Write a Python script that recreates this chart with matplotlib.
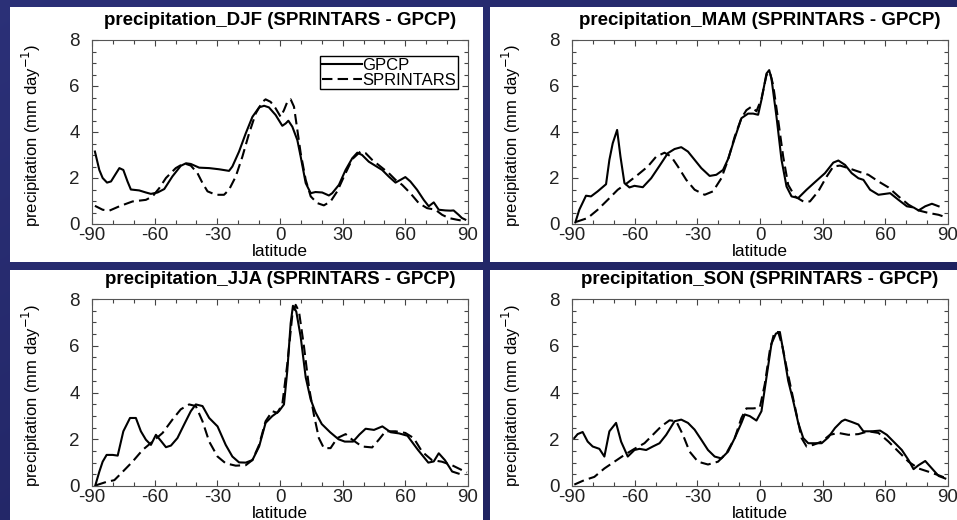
import numpy as np
import matplotlib
matplotlib.use("Agg")
import matplotlib.pyplot as plt
from matplotlib.patches import Rectangle
from matplotlib.ticker import MultipleLocator

plt.rcParams['font.family'] = ['Liberation Sans', 'DejaVu Sans']
plt.rcParams['axes.unicode_minus'] = False

# ---------------- data ----------------
djf_gpcp_lat = [-88.6, -86.5, -84.9, -82.8, -80.9, -78.5, -76.9, -75, -73, -71.4, -67.4, -64.2, -61.8, -58.6,
                -55.4, -51.5, -47.5, -45, -42.7, -38.7, -33.9, -29.2, -24.4, -22.8, -19.6, -16.4, -13.2, -10,
                -7.6, -5.3, -2.1, 1.1, 2.7, 4, 5.9, 8.3, 9.9, 12.3, 14.7, 17, 20.2, 23.4, 25, 28.2, 31.4, 34.6,
                37, 39.3, 42.5, 45.7, 48.9, 52.1, 55.3, 57.7, 60, 62.4, 65.6, 68.8, 71.2, 73.6, 76, 79.2, 81.6,
                83.1, 85.5, 87.1, 88.7]
djf_gpcp = [3.15, 2.35, 2.0, 1.8, 1.85, 2.2, 2.43, 2.35, 1.85, 1.5, 1.46, 1.37, 1.31, 1.37,
            1.52, 2.07, 2.53, 2.64, 2.61, 2.45, 2.43, 2.38, 2.31, 2.5, 3.15, 3.94, 4.66, 5.07,
            5.14, 5.07, 4.74, 4.27, 4.37, 4.49, 4.23, 3.65, 2.93, 1.78, 1.34, 1.39, 1.37, 1.24, 1.34, 1.7, 2.35, 2.86,
            3.1, 3.0, 2.71, 2.53, 2.35, 2.06, 1.8, 1.92, 2.04, 1.85, 1.49, 1.05, 0.77, 0.94, 0.62, 0.59, 0.58,
            0.59, 0.4, 0.26, 0.19]
djf_spr_lat = [-88.6, -84.9, -81.7, -76.9, -70.6, -64.2, -61, -57.8, -54.6, -49.9, -45.9, -42.7, -39.5, -37.1,
               -34.7, -30.7, -26.8, -24.4, -21.2, -18, -14.8, -11.6, -8.4, -6.9, -4.5, -2.1, 0.3, 1.9, 3.5, 5.1,
               6.7, 8.3, 9.9, 12.3, 14.7, 17.8, 21, 24.2, 27.4, 30.6, 34.6, 38.5, 41, 44.1, 48.1, 52.1, 55.3,
               58.5, 62.4, 66.4, 70.4, 74.4, 77.6, 80.8, 84.5, 88.7]
djf_spr = [0.79, 0.62, 0.58, 0.77, 0.98, 1.05, 1.2, 1.56, 2.0, 2.43, 2.64, 2.54, 2.21, 1.78,
           1.42, 1.27, 1.27, 1.49, 2.06, 2.93, 3.94, 4.81, 5.31, 5.42, 5.31, 5.03, 4.66, 4.95, 5.31, 5.42,
           5.1, 4.09, 3.08, 1.92, 1.2, 0.91, 0.81, 0.98, 1.42, 2.06, 2.82, 3.15, 3.08, 2.79, 2.5, 2.21, 1.92,
           1.7, 1.34, 0.91, 0.69, 0.62, 0.4, 0.26, 0.19, 0.12]

mam_gpcp_lat = [-88.4, -86.5, -83.3, -80.9, -77.7, -73.7, -72.1, -70.5, -68.4, -66.8, -64.9, -62.5, -60.1,
                -56.1, -52.1, -48.1, -44.1, -40.9, -37.7, -34.5, -31.3, -28.1, -24.1, -20.9, -17.7, -15.3,
                -12.1, -8.9, -5.7, -3.3, -0.9, 0.7, 3.1, 4.4, 5.5, 7.9, 10.3, 12.7, 15.1, 18.3, 22.3, 26.3,
                31.1, 35.1, 37.5, 40.7, 43.9, 47.1, 49.5, 52.7, 56.7, 59.9, 62.3, 66.3, 70.3, 73.5, 75.9,
                79.1, 82.3, 85.5]
mam_gpcp = [0.07, 0.62, 1.23, 1.2, 1.42, 1.73, 2.79, 3.51, 4.09, 2.93, 1.78, 1.59, 1.66,
            1.6, 1.99, 2.53, 3.08, 3.26, 3.34, 3.15, 2.79, 2.43, 2.09, 2.14, 2.35, 2.82,
            3.73, 4.6, 4.8, 4.8, 4.75, 5.4, 6.54, 6.69, 6.32, 4.66, 2.79, 1.63, 1.2, 1.13, 1.49, 1.82,
            2.21, 2.67, 2.76, 2.57, 2.21, 1.99, 1.92, 1.49, 1.27, 1.31, 1.34, 1.05, 0.77, 0.72, 0.59,
            0.77, 0.88, 0.77]
mam_spr_lat = [-88.1, -82.5, -77.7, -72.9, -68.1, -63.3, -58.5, -53.7, -49.7, -45.7, -42.5, -39.3, -35.3,
               -31.3, -26.5, -22.5, -18.5, -15.3, -12.1, -8.9, -6.5, -4.1, -1.7, 0.7, 3.1, 4.7, 6.3, 8.7,
               11.1, 13.5, 16.7, 20.7, 23.9, 27.9, 31.9, 35.1, 38.3, 42.3, 47.1, 51.9, 56.7, 61.5, 66.3,
               71.1, 75.9, 80.7, 85.5, 88.7]
mam_spr = [0.09, 0.26, 0.62, 1.05, 1.49, 1.8, 2.14, 2.5, 2.93, 3.1, 2.93, 2.5, 1.92,
           1.49, 1.27, 1.42, 1.99, 2.79, 3.8, 4.6, 4.95, 5.1, 4.9, 5.45, 6.47, 6.61, 6.04, 4.52,
           2.93, 1.7, 1.2, 0.98, 0.98, 1.42, 2.06, 2.5, 2.54, 2.43, 2.28, 2.14, 1.85, 1.59, 1.2,
           0.84, 0.59, 0.48, 0.4, 0.3]

jja_gpcp_lat = [-88.4, -86.5, -84.9, -83, -80.1, -77.7, -75, -71.8, -69, -66.6, -64.2, -61.8, -59.4, -57,
                -54.6, -52.2, -49.1, -45.9, -42.7, -40.3, -37.1, -33.9, -29.9, -26, -22.8, -19.6, -16.4,
                -13.2, -10, -6.9, -3.7, -0.5, 1.9, 3.5, 5.1, 6.2, 7.8, 9.9, 12.3, 14.7, 17, 20, 24, 28,
                31, 35, 38, 41, 45, 49, 53, 57, 61, 66, 71, 73.6, 76, 79, 82.4, 85.5]
jja_gpcp = [0.03, 0.61, 1.04, 1.33, 1.33, 1.3, 2.34, 2.91, 2.91, 2.34, 1.98, 1.76, 2.19, 1.93,
            1.66, 1.73, 2.05, 2.63, 3.2, 3.49, 3.42, 2.91, 2.55, 1.76, 1.26, 1.01, 1.0,
            1.11, 1.69, 2.7, 2.99, 3.2, 3.49, 4.94, 6.96, 7.71, 7.46, 6.38, 4.65, 3.7, 3.15, 2.65, 2.3, 2.0,
            1.9, 1.9, 2.2, 2.45, 2.4, 2.55, 2.3, 2.25, 2.15, 1.55, 1.0, 1.05, 1.4, 1.1, 0.62, 0.53]
jja_spr_lat = [-88.1, -83.3, -79.3, -75.3, -70.6, -65.8, -61, -56.2, -51.5, -47.5, -43.5, -40.3, -37.1,
               -33.9, -29.9, -26, -21.2, -16.4, -13.2, -10, -6.9, -3.7, -1.3, 1.1, 3.5, 5.9, 7.5, 9.1,
               11.5, 13.9, 16.2, 18.6, 21, 24.2, 27.4, 31.4, 34.6, 39.3, 44.1, 47.3, 50.5, 55.3, 60, 64,
               68, 72.7, 77.5, 82.3, 87.1, 89.5]
jja_spr = [0.03, 0.17, 0.25, 0.61, 1.04, 1.54, 1.9, 2.27, 2.84, 3.28, 3.49, 3.42, 2.77,
           1.9, 1.26, 0.97, 0.87, 0.89, 1.11, 1.76, 2.77, 3.2, 3.13, 3.49, 5.22, 7.32, 7.75, 7.46,
           5.95, 4.21, 3.06, 2.05, 1.62, 1.62, 2.05, 2.22, 1.98, 1.69, 1.65, 1.98, 2.34, 2.34, 2.27, 2.05,
           1.47, 1.11, 1.04, 0.89, 0.68, 0.58]

son_gpcp_lat = [-88.9, -87.3, -84.9, -82.5, -80.1, -76.9, -74.5, -72.1, -68.9, -66.5, -63.3, -60.1, -57.7,
                -54.5, -51.3, -48.1, -44.9, -40.9, -37.7, -34.5, -31.3, -28.1, -24.9, -21.7, -18.5, -15.3,
                -12.1, -8.9, -7.3, -4.9, -1.7, 0.7, 3.1, 5.5, 7.6, 9.5, 11.1, 13.5, 15.9, 18.3, 20.7, 23.1,
                26.3, 29.5, 32.7, 35.9, 39.1, 40.7, 43.9, 47.1, 49.5, 53.5, 57.5, 60.7, 64.7, 67.9, 71.1,
                73.5, 75.9, 79.1, 82.3, 85.5, 88.7]
son_gpcp = [2.05, 2.22, 2.31, 1.9, 1.69, 1.59, 1.26, 2.34, 2.7, 1.9, 1.26, 1.54, 1.59,
            1.54, 1.69, 1.83, 2.19, 2.77, 2.84, 2.7, 2.41, 1.98, 1.54, 1.26, 1.18, 1.47,
            2.05, 2.7, 3.06, 2.99, 2.8, 3.2, 4.65, 6.09, 6.52, 6.59, 5.8, 4.5, 3.64, 2.7, 2.05, 1.83,
            1.83, 1.83, 2.08, 2.48, 2.77, 2.84, 2.74, 2.63, 2.34, 2.34, 2.37, 2.19, 1.83, 1.54, 1.11,
            0.72, 0.89, 1.07, 0.75, 0.43, 0.32]
son_spr_lat = [-88.9, -84.1, -79.3, -74.5, -69.7, -64.9, -60.1, -55.3, -51.3, -47.3, -43.3, -40.1, -36.9,
               -33.7, -29.7, -24.9, -20.1, -16.1, -12.1, -8.9, -6.5, -3.3, -0.1, 2.3, 4.7, 6.8, 8.7, 10.6,
               12.7, 15.1, 17.5, 19.9, 22.3, 25.5, 29.5, 33.5, 37.5, 42.3, 47.1, 51.9, 56.7, 61.5, 66.3,
               71.1, 75.9, 80.7, 85.5, 88.7]
son_spr = [0.06, 0.25, 0.39, 0.75, 1.04, 1.33, 1.59, 1.83, 2.19, 2.55, 2.81, 2.77, 2.19,
           1.47, 1.04, 0.92, 1.04, 1.4, 2.05, 2.91, 3.32, 3.32, 3.35, 4.36, 5.8, 6.55, 6.59, 6.02,
           5.08, 4.07, 3.06, 2.05, 1.69, 1.76, 1.9, 2.19, 2.27, 2.19, 2.22, 2.34, 2.27, 1.9, 1.47,
           1.04, 0.75, 0.61, 0.46, 0.35]

seasons = ["DJF", "MAM", "JJA", "SON"]
series_names = ["GPCP", "SPRINTARS"]
x_ticks = [-90, -60, -30, 0, 30, 60, 90]
y_ticks = [0, 2, 4, 6, 8]

# ---------------- figure ----------------
W, H = 957, 520
fig = plt.figure(figsize=(W / 100, H / 100), dpi=100)

# slide background (blue gradient)
gx = np.linspace(0, 1, W)[None, :]
gy = np.linspace(0, 1, H)[:, None]
t = 0.5 * gx + 0.5 * gy
c0 = np.array([0.17, 0.19, 0.47])
c1 = np.array([0.11, 0.12, 0.35])
bg = c0[None, None, :] * (1 - t[..., None]) + c1[None, None, :] * t[..., None]
fig.figimage(bg, xo=0, yo=0, origin='upper', zorder=0)

def px_rect(x0, y0, x1, y1):
    return [x0 / W, (H - y1) / H, (x1 - x0) / W, (y1 - y0) / H]

# white panels
for (x0, y0, x1, y1) in [(10, 7, 483, 262), (490, 7, 957, 262), (10, 270, 483, 520), (490, 270, 957, 520)]:
    r = px_rect(x0, y0, x1, y1)
    fig.patches.append(Rectangle((r[0], r[1]), r[2], r[3], transform=fig.transFigure,
                                 facecolor='white', edgecolor='none', zorder=1))

axes_px = [(92, 40, 468, 224), (572, 40, 948, 224), (92, 299, 468, 486), (572, 299, 948, 486)]
ylabel_x = [31, 511, 31, 511]

data = {
    "DJF": (djf_gpcp_lat, djf_gpcp, djf_spr_lat, djf_spr),
    "MAM": (mam_gpcp_lat, mam_gpcp, mam_spr_lat, mam_spr),
    "JJA": (jja_gpcp_lat, jja_gpcp, jja_spr_lat, jja_spr),
    "SON": (son_gpcp_lat, son_gpcp, son_spr_lat, son_spr),
}

for i, s in enumerate(seasons):
    x0, y0, x1, y1 = axes_px[i]
    ax = fig.add_axes(px_rect(x0, y0, x1, y1), zorder=2)
    glat, gval, slat, sval = data[s]
    ax.plot(glat, gval, color='black', lw=1.5, label=series_names[0])
    ax.plot(slat, sval, color='black', lw=1.5, dashes=(5, 2.5), label=series_names[1])
    ax.set_xlim(-90, 90)
    ax.set_ylim(0, 8)
    ax.set_xticks(x_ticks)
    ax.set_yticks(y_ticks)
    ax.xaxis.set_minor_locator(MultipleLocator(10))
    ax.yaxis.set_minor_locator(MultipleLocator(0.5))
    ax.tick_params(which='both', direction='in', top=True, right=True, color='#444444', width=0.8)
    ax.tick_params(which='major', length=4)
    ax.tick_params(which='minor', length=3)
    ax.tick_params(axis='x', which='major', labelsize=13.5, pad=2.5, labelcolor='#222222')
    ax.tick_params(axis='y', which='major', labelsize=13.5, pad=9, labelcolor='#222222')
    for sp in ax.spines.values():
        sp.set_color('#555555')
        sp.set_linewidth(0.8)
    ax.set_title(f"precipitation_{s} (SPRINTARS - GPCP)", fontsize=13.5, fontweight='bold', pad=11)
    ax.set_xlabel("latitude", fontsize=12.5, labelpad=0)
    fig.text(ylabel_x[i] / W, 1 - ((y0 + y1) / 2 + 3) / H, "precipitation (mm day$^{-1}$)",
             rotation=90, ha='center', va='center', fontsize=12, zorder=3)
    if s == "DJF":
        leg = ax.legend(loc='upper right', bbox_to_anchor=((458 - 92) / 376, (224 - 56) / 184),
                        borderaxespad=0, fontsize=12, handlelength=2.4, handletextpad=0.05,
                        labelspacing=0.0, borderpad=0.1, fancybox=False, framealpha=1,
                        edgecolor='black')
        leg.get_frame().set_linewidth(1.0)

fig.savefig("out.png", dpi=100)
